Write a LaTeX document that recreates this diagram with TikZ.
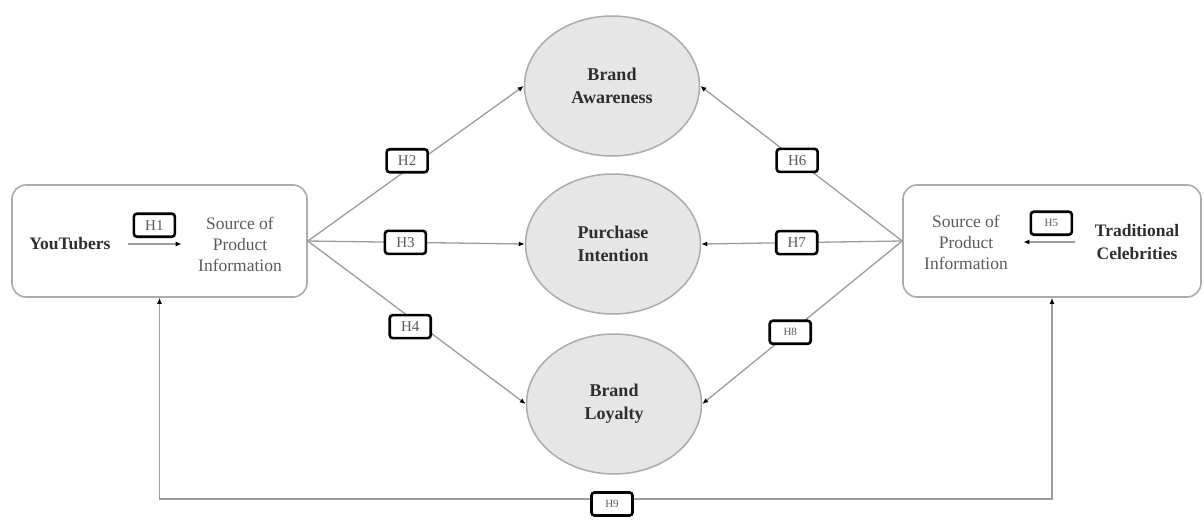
\documentclass[tikz,border=0pt]{standalone}
\usepackage{fontspec}
\setmainfont{Liberation Serif}
\usetikzlibrary{arrows.meta,shapes.geometric}
\definecolor{linegray}{HTML}{9C9C9C}
\definecolor{framegray}{HTML}{ABABAB}
\definecolor{latentfill}{HTML}{E6E6E6}
\definecolor{textdark}{HTML}{2E2E2E}
\definecolor{textgray}{HTML}{5A5A5A}

\begin{document}
\begin{tikzpicture}[x=1pt, y=-1pt, >={Latex[length=6pt,width=5pt,color=black]},
    conn/.style = {draw=linegray, line width=1.3pt},
    frame/.style = {draw=framegray, line width=1.6pt, rounded corners=14pt, minimum width=295pt, minimum height=112pt},
    latent/.style = {ellipse, draw=framegray, fill=latentfill, line width=1.5pt, minimum width=175pt, minimum height=140pt, inner sep=0pt, align=center, text=textdark, font=\bfseries\fontsize{18}{23}\selectfont},
    bold/.style = {align=center, text=textdark, font=\bfseries\fontsize{17.5}{23}\selectfont},
    plain/.style = {align=center, text=textgray, font=\fontsize{17.5}{21}\selectfont},
    hyp/.style = {draw=black, line width=2.6pt, rounded corners=3pt, fill=white, minimum width=41pt, minimum height=23pt, inner sep=0pt, text=textgray, font=\fontsize{15}{17}\selectfont},
    small/.style = {font=\fontsize{11}{13}\selectfont}]
    \useasboundingbox (0,0) rectangle (1204,527);
    \node[frame] (yfr) at (159.5,241) {};
    \node[frame, minimum width=298pt] (cfr) at (1052,241) {};
    \node[bold] (yt) at (70,244) {YouTubers};
    \node[plain] (src1) at (240,244) {Source of\\Product\\Information};
    \node[plain] (src2) at (966,242) {Source of\\Product\\Information};
    \node[bold] (trad) at (1137,242) {Traditional\\Celebrities};
    \node[latent] (aware) at (612,86) {Brand\\Awareness};
    \node[latent] (intent) at (613,244) {Purchase\\Intention};
    \node[latent] (loyal) at (614,404) {Brand\\Loyalty};
    \draw[conn, ->, shorten <=14pt, shorten >=13pt] (yt) -- node[hyp, above=6pt]{H1} (src1);
    \draw[conn, ->, shorten <=16pt, shorten >=12pt] (trad) -- node[hyp, small, above=6pt]{H5} (src2);
    \draw[conn, ->] (yfr.east) -- node[hyp, pos=0.46, yshift=9pt]{H2} (aware.west);
    \draw[conn, ->] (yfr.east) -- node[hyp, pos=0.45]{H3} (intent.west);
    \draw[conn, ->] (yfr.east) -- node[hyp, pos=0.47, yshift=-9pt]{H4} (loyal.west);
    \draw[conn, ->] (cfr.west) -- node[hyp, pos=0.52]{H6} (aware.east);
    \draw[conn, ->] (cfr.west) -- node[hyp, pos=0.525]{H7} (intent.east);
    \draw[conn, ->] (cfr.west) -- node[hyp, small, pos=0.56]{H8} (loyal.east);
    \coordinate (base) at (607,499);
    \draw[conn, <-] (yfr.south) |- (base);
    \draw[conn, ->] (base) -| (cfr.south);
    \node[hyp, small] (h9) at (612,504) {H9};
\end{tikzpicture}
\end{document}
